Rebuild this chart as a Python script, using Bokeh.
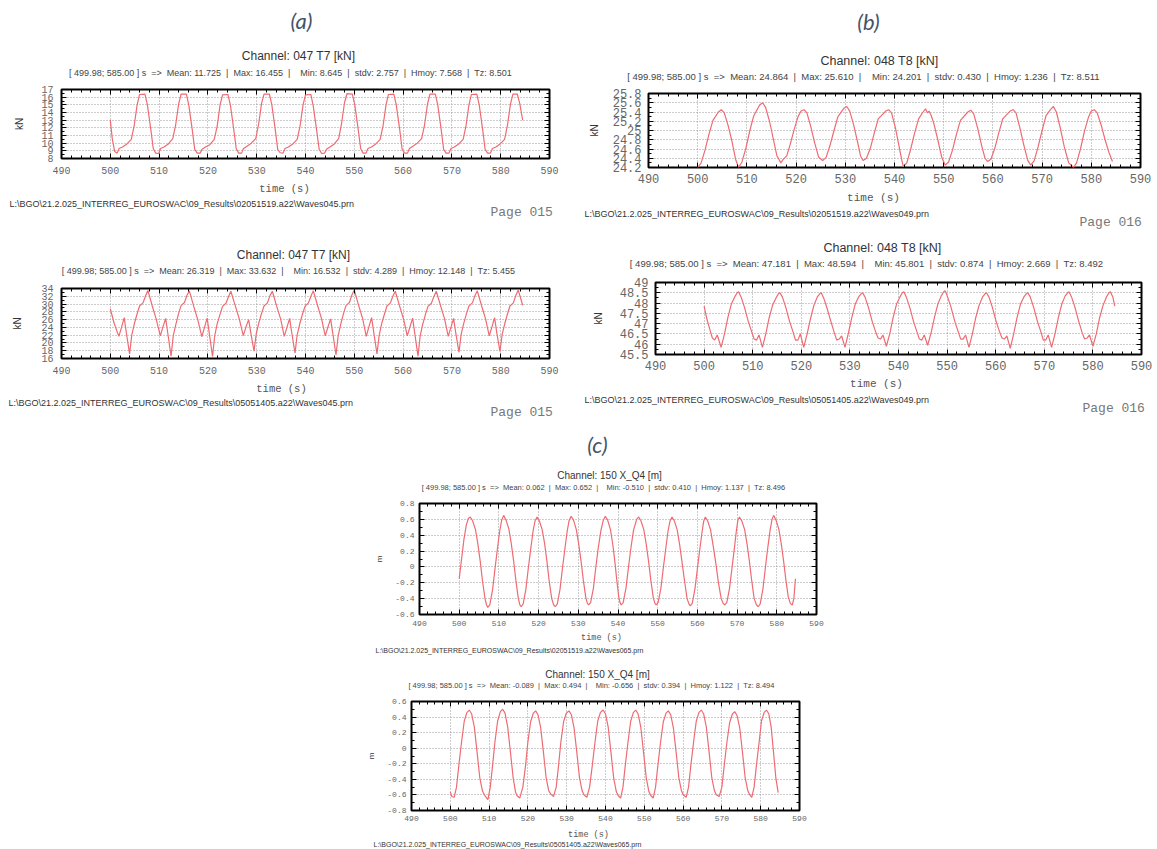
import math
from bokeh.plotting import figure
from bokeh.models import Range1d, FixedTicker, LinearAxis, CustomJSTickFormatter, Spacer
from bokeh.core.properties import value
from bokeh.layouts import column, row
from bokeh.embed import file_html
from bokeh.resources import INLINE

# ---------------- data ----------------
X_TICKS = [490, 500, 510, 520, 530, 540, 550, 560, 570, 580, 590]
A1_YTICKS = [8, 9, 10, 11, 12, 13, 14, 15, 16, 17]
A2_YTICKS = [16, 18, 20, 22, 24, 26, 28, 30, 32, 34]
B1_YTICKS = [24.2, 24.4, 24.6, 24.8, 25.0, 25.2, 25.4, 25.6, 25.8]
B2_YTICKS = [45.5, 46.0, 46.5, 47.0, 47.5, 48.0, 48.5, 49.0]
C1_YTICKS = [-0.6, -0.4, -0.2, 0.0, 0.2, 0.4, 0.6, 0.8]
C2_YTICKS = [-0.8, -0.6, -0.4, -0.2, 0.0, 0.2, 0.4, 0.6]

# 047 T7 [kN] - 02051519
A1_PTS = [(500.0, 13.0), (500.4, 10.6), (500.9, 8.9), (501.4, 8.7), (501.8, 9.3), (502.5, 9.5), (503.4, 9.9), (504.3, 10.5), (504.9, 12.3), (505.5, 15.0), (506.0, 16.35), (507.1, 16.4), (507.6, 15.0), (508.3, 11.8), (508.8, 9.3), (509.3, 8.7),
          (509.9, 8.65), (510.3, 9.3), (511.0, 9.5), (511.9, 9.9), (512.8, 10.6), (513.4, 12.4), (514.0, 15.1), (514.5, 16.4), (515.6, 16.4), (516.1, 14.9), (516.8, 11.7), (517.3, 9.2), (517.8, 8.7),
          (518.4, 8.7), (518.8, 9.2), (519.5, 9.5), (520.4, 9.8), (521.3, 10.5), (521.9, 12.2), (522.5, 15.0), (523.0, 16.3), (524.1, 16.35), (524.6, 15.0), (525.3, 11.8), (525.8, 9.3), (526.3, 8.7),
          (526.9, 8.7), (527.3, 9.3), (528.0, 9.6), (528.9, 10.0), (529.8, 10.6), (530.4, 12.5), (531.0, 15.2), (531.5, 16.4), (532.6, 16.4), (533.1, 15.0), (533.8, 11.8), (534.3, 9.2), (534.8, 8.75),
          (535.4, 8.7), (535.8, 9.3), (536.5, 9.5), (537.4, 9.9), (538.3, 10.5), (538.9, 12.3), (539.5, 15.0), (540.0, 16.3), (541.1, 16.35), (541.6, 14.8), (542.3, 11.6), (542.8, 9.2), (543.3, 8.65),
          (543.9, 8.7), (544.3, 9.2), (545.0, 9.5), (545.9, 9.9), (546.8, 10.6), (547.4, 12.6), (548.0, 15.3), (548.5, 16.45), (549.6, 16.4), (550.1, 15.0), (550.8, 11.8), (551.3, 9.3), (551.8, 8.7),
          (552.4, 8.7), (552.8, 9.3), (553.5, 9.5), (554.4, 9.9), (555.3, 10.5), (555.9, 12.3), (556.5, 15.0), (557.0, 16.35), (558.1, 16.4), (558.6, 15.0), (559.3, 11.8), (559.8, 9.2), (560.3, 8.7),
          (560.9, 8.7), (561.3, 9.3), (562.0, 9.6), (562.9, 10.0), (563.8, 10.6), (564.4, 12.4), (565.0, 15.1), (565.5, 16.4), (566.6, 16.4), (567.1, 15.0), (567.8, 11.8), (568.3, 9.2), (568.8, 8.7),
          (569.4, 8.7), (569.8, 9.3), (570.5, 9.5), (571.4, 9.9), (572.3, 10.5), (572.9, 12.3), (573.5, 15.0), (574.0, 16.35), (575.1, 16.4), (575.6, 15.0), (576.3, 11.8), (576.8, 9.2), (577.3, 8.7),
          (577.9, 8.7), (578.3, 9.3), (579.0, 9.5), (579.9, 9.9), (580.8, 10.5), (581.4, 12.4), (582.0, 15.1), (582.5, 16.4), (583.4, 16.4), (583.9, 15.2), (584.5, 13.0)]

# 047 T7 [kN] - 05051405
A2_PTS = [(500.0, 28.8), (500.8, 25.0),
          (501.75, 21.7), (502.3, 24.0), (502.85, 26.5), (503.3, 22.5), (503.95, 17.2), (504.4, 22.0), (504.9, 24.8), (505.5, 27.5), (506.0, 29.5), (506.7, 30.3), (507.2, 32.0), (507.7, 33.5), (508.6, 29.5), (509.4, 26.2),
          (510.25, 21.8), (510.8, 24.2), (511.35, 26.3), (511.8, 22.3), (512.45, 16.6), (512.9, 21.8), (513.4, 24.6), (514.0, 27.6), (514.5, 29.6), (515.2, 30.4), (515.7, 32.2), (516.2, 33.4), (517.1, 29.4), (517.9, 26.1),
          (518.75, 21.6), (519.3, 24.0), (519.85, 26.4), (520.3, 22.4), (520.95, 16.5), (521.4, 21.9), (521.9, 24.9), (522.5, 27.4), (523.0, 29.4), (523.7, 30.2), (524.2, 31.8), (524.7, 33.3), (525.6, 29.6), (526.4, 26.3),
          (527.25, 21.9), (527.8, 24.1), (528.35, 26.0), (528.8, 22.6), (529.45, 17.9), (529.9, 22.3), (530.4, 25.0), (531.0, 27.6), (531.5, 29.5), (532.2, 30.3), (532.7, 32.1), (533.2, 33.3), (534.1, 29.4), (534.9, 26.2),
          (535.65, 21.7), (536.2, 24.0), (536.75, 26.3), (537.2, 22.5), (537.85, 17.4), (538.3, 22.1), (538.8, 24.8), (539.4, 27.5), (539.9, 29.4), (540.6, 30.3), (541.1, 32.0), (541.6, 33.4), (542.5, 29.5), (543.3, 26.2),
          (544.05, 21.8), (544.6, 24.1), (545.15, 26.2), (545.6, 22.4), (546.25, 16.9), (546.7, 21.9), (547.2, 24.7), (547.8, 27.6), (548.3, 29.6), (549.0, 30.4), (549.5, 32.3), (550.0, 33.6), (550.9, 29.6), (551.7, 26.3),
          (552.45, 21.7), (553.0, 24.2), (553.55, 26.5), (554.0, 22.6), (554.65, 17.2), (555.1, 22.0), (555.6, 24.9), (556.2, 27.5), (556.7, 29.5), (557.4, 30.3), (557.9, 32.0), (558.4, 33.3), (559.3, 29.4), (560.1, 26.1),
          (560.85, 21.8), (561.4, 24.1), (561.95, 26.4), (562.4, 22.4), (563.05, 16.6), (563.5, 21.8), (564.0, 24.7), (564.6, 27.4), (565.1, 29.4), (565.8, 30.2), (566.3, 31.9), (566.8, 33.3), (567.7, 29.5), (568.5, 26.2),
          (569.25, 21.7), (569.8, 24.0), (570.35, 26.3), (570.8, 22.5), (571.45, 17.6), (571.9, 22.2), (572.4, 24.9), (573.0, 27.6), (573.5, 29.5), (574.2, 30.3), (574.7, 32.1), (575.2, 33.4), (576.1, 29.5), (576.9, 26.2),
          (577.65, 21.8), (578.2, 24.1), (578.75, 26.5), (579.2, 22.6), (579.85, 17.8), (580.3, 22.2), (580.8, 24.8), (581.4, 27.5), (581.9, 29.5), (582.6, 30.3), (583.1, 32.2), (583.6, 33.6), (584.5, 29.7)]

# 048 T8 [kN] - 02051519
B1_PTS = [(500.0, 24.20), (500.7, 24.30), (501.5, 24.58), (502.3, 24.92), (503.1, 25.22), (504.2, 25.40), (504.8, 25.45), (505.4, 25.38), (506.2, 25.10), (507.0, 24.75), (507.7, 24.38),
          (508.3, 24.20), (509.0, 24.32), (509.8, 24.62), (510.6, 25.00), (511.4, 25.32), (512.6, 25.55), (513.2, 25.60), (513.8, 25.50), (514.6, 25.20), (515.4, 24.80), (516.1, 24.45), (516.5, 24.38),
          (516.9, 24.30), (517.4, 24.38), (518.1, 24.45), (518.8, 24.70), (519.6, 25.02), (520.4, 25.30), (521.0, 25.42), (521.6, 25.45), (522.2, 25.38), (523.0, 25.08), (523.8, 24.72), (524.6, 24.42),
          (525.4, 24.35), (526.1, 24.42), (526.9, 24.68), (527.7, 25.00), (528.5, 25.30), (529.7, 25.48), (530.3, 25.52), (530.9, 25.42), (531.7, 25.12), (532.5, 24.75), (533.1, 24.45),
          (533.6, 24.35), (534.3, 24.40), (535.1, 24.62), (535.9, 24.95), (536.7, 25.25), (538.2, 25.42), (538.8, 25.45), (539.4, 25.38), (540.2, 25.05), (541.0, 24.62), (541.5, 24.35),
          (541.8, 24.22), (542.5, 24.30), (543.3, 24.60), (544.1, 24.95), (544.9, 25.25), (545.8, 25.40), (546.3, 25.47), (546.7, 25.38), (547.0, 25.42), (547.4, 25.34), (548.0, 25.15), (548.8, 24.80), (549.6, 24.42),
          (550.3, 24.25), (551.0, 24.32), (551.8, 24.58), (552.6, 24.92), (553.4, 25.22), (554.9, 25.40), (555.5, 25.44), (556.1, 25.36), (556.9, 25.05), (557.7, 24.68), (558.4, 24.40),
          (558.9, 24.33), (559.6, 24.38), (560.4, 24.62), (561.2, 24.95), (562.0, 25.25), (563.5, 25.42), (564.1, 25.45), (564.7, 25.38), (565.5, 25.05), (566.3, 24.68), (567.1, 24.35),
          (567.7, 24.25), (568.4, 24.35), (569.2, 24.65), (570.0, 25.00), (570.8, 25.32), (571.7, 25.45), (572.3, 25.52), (572.9, 25.40), (573.7, 25.05), (574.5, 24.65), (575.4, 24.30),
          (576.4, 24.20), (577.0, 24.30), (577.8, 24.60), (578.6, 24.98), (579.4, 25.28), (580.0, 25.42), (580.6, 25.45), (581.2, 25.38), (582.0, 25.12), (582.8, 24.80), (583.6, 24.52), (584.3, 24.33)]

# 048 T8 [kN] - 05051405
B2_PTS = [(500.0, 47.85), (500.6, 47.2), (501.2, 46.7), (501.7, 46.3), (502.2, 46.2), (502.7, 46.45),
          (503.5, 45.85), (504.2, 46.5), (504.9, 47.3), (505.6, 47.95), (506.3, 48.3), (506.8, 48.5), (507.1, 48.55), (507.6, 48.3), (508.3, 47.8), (509.1, 47.1), (509.8, 46.6), (510.3, 46.25), (510.8, 46.2), (511.3, 46.45),
          (512.0, 45.85), (512.7, 46.5), (513.4, 47.3), (514.1, 47.9), (514.8, 48.25), (515.3, 48.45), (515.6, 48.5), (516.1, 48.3), (516.8, 47.8), (517.6, 47.1), (518.3, 46.6), (518.8, 46.2), (519.3, 46.2), (519.8, 46.5),
          (520.5, 45.85), (521.2, 46.5), (521.9, 47.25), (522.6, 47.9), (523.3, 48.3), (523.8, 48.45), (524.1, 48.5), (524.6, 48.25), (525.3, 47.75), (526.1, 47.1), (526.8, 46.55), (527.3, 46.2), (527.8, 46.25), (528.3, 46.4),
          (529.0, 45.85), (529.7, 46.55), (530.4, 47.3), (531.1, 47.95), (531.8, 48.3), (532.3, 48.45), (532.6, 48.5), (533.1, 48.3), (533.8, 47.8), (534.6, 47.1), (535.3, 46.6), (535.8, 46.3), (536.3, 46.25), (536.8, 46.45),
          (537.5, 45.9), (538.2, 46.5), (538.9, 47.3), (539.6, 47.95), (540.3, 48.3), (540.8, 48.5), (541.1, 48.55), (541.6, 48.3), (542.3, 47.8), (543.1, 47.1), (543.8, 46.6), (544.3, 46.25), (544.8, 46.2), (545.3, 46.45),
          (546.0, 45.95), (546.7, 46.55), (547.4, 47.3), (548.1, 47.95), (548.8, 48.35), (549.3, 48.55), (549.6, 48.6), (550.1, 48.3), (550.8, 47.8), (551.6, 47.1), (552.3, 46.6), (552.8, 46.25), (553.3, 46.25), (553.8, 46.45),
          (554.5, 45.85), (555.2, 46.5), (555.9, 47.3), (556.6, 47.9), (557.3, 48.3), (557.8, 48.45), (558.1, 48.5), (558.6, 48.3), (559.3, 47.8), (560.1, 47.1), (560.8, 46.6), (561.3, 46.3), (561.8, 46.25), (562.3, 46.4),
          (563.0, 45.8), (563.7, 46.5), (564.4, 47.3), (565.1, 47.95), (565.8, 48.3), (566.3, 48.45), (566.6, 48.5), (567.1, 48.3), (567.8, 47.8), (568.6, 47.1), (569.3, 46.6), (569.8, 46.2), (570.3, 46.2), (570.8, 46.45),
          (571.5, 45.85), (572.2, 46.5), (572.9, 47.3), (573.6, 47.95), (574.3, 48.35), (574.8, 48.5), (575.1, 48.55), (575.6, 48.3), (576.3, 47.8), (577.1, 47.1), (577.8, 46.55), (578.3, 46.25), (578.8, 46.3), (579.3, 46.45),
          (580.0, 45.9), (580.7, 46.5), (581.4, 47.3), (582.1, 47.9), (582.8, 48.3), (583.3, 48.5), (583.6, 48.55), (584.1, 48.3), (584.5, 47.85)]

# 150 X_Q4 [m] - 02051519
C1_PTS = [(500.0, -0.15), (500.6, 0.10), (501.2, 0.35), (501.8, 0.53), (502.3, 0.61),
          (502.8, 0.63), (503.4, 0.58), (504.1, 0.47), (504.7, 0.29), (505.3, 0.07), (505.9, -0.19), (506.5, -0.40), (506.9, -0.48), (507.2, -0.51), (507.7, -0.48), (508.4, -0.29), (509.0, -0.03), (509.6, 0.22), (510.2, 0.45), (510.7, 0.59),
          (511.2, 0.65), (511.8, 0.59), (512.5, 0.48), (513.1, 0.30), (513.7, 0.08), (514.3, -0.18), (514.9, -0.40), (515.3, -0.48), (515.6, -0.50), (516.1, -0.47), (516.8, -0.28), (517.4, -0.02), (518.0, 0.22), (518.6, 0.45), (519.1, 0.58),
          (519.6, 0.63), (520.2, 0.58), (520.9, 0.47), (521.5, 0.30), (522.1, 0.07), (522.7, -0.19), (523.3, -0.40), (523.8, -0.48), (524.2, -0.50), (524.7, -0.47), (525.4, -0.28), (526.0, -0.02), (526.6, 0.22), (527.2, 0.45), (527.7, 0.59),
          (528.2, 0.64), (528.8, 0.59), (529.5, 0.47), (530.1, 0.29), (530.7, 0.07), (531.3, -0.18), (531.9, -0.39), (532.3, -0.46), (532.6, -0.48), (533.1, -0.45), (533.8, -0.27), (534.4, -0.01), (535.0, 0.23), (535.7, 0.46), (536.3, 0.59),
          (536.8, 0.64), (537.4, 0.59), (538.1, 0.47), (538.7, 0.28), (539.2, 0.07), (539.7, -0.17), (540.2, -0.38), (540.5, -0.45), (540.8, -0.48), (541.3, -0.45), (542.0, -0.27), (542.6, -0.02), (543.2, 0.22), (543.9, 0.46), (544.7, 0.60),
          (545.2, 0.63), (545.8, 0.58), (546.5, 0.47), (547.1, 0.29), (547.7, 0.07), (548.3, -0.18), (548.9, -0.39), (549.3, -0.46), (549.6, -0.48), (550.1, -0.45), (550.8, -0.27), (551.4, -0.02), (552.0, 0.22), (552.6, 0.45), (553.1, 0.58),
          (553.6, 0.63), (554.2, 0.58), (554.9, 0.47), (555.5, 0.29), (556.1, 0.07), (556.8, -0.19), (557.4, -0.40), (557.9, -0.47), (558.2, -0.49), (558.7, -0.46), (559.4, -0.27), (560.0, -0.02), (560.6, 0.22), (561.2, 0.45), (561.6, 0.58),
          (562.0, 0.63), (562.6, 0.58), (563.3, 0.47), (563.9, 0.29), (564.6, 0.06), (565.3, -0.20), (566.0, -0.40), (566.5, -0.46), (566.9, -0.48), (567.4, -0.45), (568.1, -0.27), (568.7, -0.02), (569.3, 0.23), (569.8, 0.45), (570.2, 0.59),
          (570.6, 0.63), (571.2, 0.58), (571.9, 0.47), (572.5, 0.29), (573.1, 0.07), (573.7, -0.18), (574.3, -0.40), (574.9, -0.48), (575.3, -0.50), (575.8, -0.47), (576.5, -0.28), (577.1, -0.02), (577.7, 0.23), (578.3, 0.46), (578.8, 0.60),
          (579.2, 0.65), (579.8, 0.59), (580.5, 0.48), (581.1, 0.30), (581.7, 0.08), (582.3, -0.17), (582.9, -0.38), (583.4, -0.46), (583.9, -0.48), (584.3, -0.40), (584.7, -0.15)]

# 150 X_Q4 [m] - 05051405
C2_PTS = [(500.0, -0.56), (500.4, -0.62),
          (501.0, -0.63), (501.6, -0.50), (502.2, -0.22), (502.9, 0.08), (503.6, 0.35), (504.3, 0.46), (504.9, 0.49), (505.5, 0.44), (506.2, 0.27), (506.9, -0.05), (507.6, -0.38), (508.3, -0.55), (508.9, -0.61),
          (509.7, -0.66), (510.3, -0.50), (510.9, -0.22), (511.5, 0.08), (512.2, 0.35), (512.9, 0.47), (513.5, 0.50), (514.1, 0.45), (514.8, 0.27), (515.5, -0.05), (516.2, -0.38), (516.8, -0.56), (517.2, -0.61),
          (517.9, -0.64), (518.7, -0.50), (519.4, -0.22), (520.0, 0.08), (520.7, 0.34), (521.4, 0.45), (522.0, 0.48), (522.6, 0.43), (523.3, 0.26), (524.0, -0.05), (524.7, -0.38), (525.4, -0.55), (525.9, -0.59),
          (526.6, -0.62), (527.3, -0.50), (527.9, -0.22), (528.5, 0.08), (529.2, 0.34), (529.9, 0.45), (530.6, 0.48), (531.2, 0.43), (531.9, 0.26), (532.6, -0.05), (533.3, -0.38), (534.0, -0.55), (534.5, -0.60),
          (535.2, -0.63), (535.9, -0.50), (536.6, -0.22), (537.3, 0.08), (538.0, 0.35), (538.7, 0.46), (539.4, 0.49), (540.0, 0.44), (540.7, 0.27), (541.4, -0.05), (542.1, -0.38), (542.8, -0.56), (543.3, -0.61),
          (543.9, -0.64), (544.5, -0.50), (545.1, -0.22), (545.8, 0.08), (546.5, 0.35), (547.2, 0.46), (547.8, 0.49), (548.4, 0.44), (549.1, 0.27), (549.8, -0.05), (550.5, -0.38), (551.2, -0.56), (551.7, -0.61),
          (552.3, -0.64), (552.9, -0.50), (553.5, -0.22), (554.2, 0.08), (554.9, 0.34), (555.6, 0.45), (556.2, 0.48), (556.8, 0.43), (557.5, 0.26), (558.2, -0.05), (558.9, -0.38), (559.6, -0.55), (560.1, -0.60),
          (560.8, -0.63), (561.4, -0.50), (562.0, -0.22), (562.7, 0.08), (563.4, 0.35), (564.1, 0.46), (564.7, 0.49), (565.3, 0.44), (566.0, 0.27), (566.7, -0.05), (567.4, -0.38), (568.1, -0.55), (568.6, -0.60),
          (569.3, -0.62), (570.0, -0.50), (570.6, -0.22), (571.3, 0.08), (572.0, 0.33), (572.7, 0.44), (573.3, 0.47), (573.9, 0.42), (574.6, 0.26), (575.3, -0.05), (576.0, -0.38), (576.7, -0.55), (577.2, -0.60),
          (577.7, -0.63), (578.3, -0.50), (578.9, -0.22), (579.6, 0.08), (580.2, 0.35), (580.9, 0.46), (581.5, 0.49), (582.1, 0.44), (582.7, 0.27), (583.3, -0.05), (583.9, -0.38), (584.5, -0.57)]

PATH_PREFIX = "L:\\BGO\\21.2.025_INTERREG_EUROSWAC\\09_Results\\"
NB = "\u00a0"


def stats_line(mean, mx, mn, sd, hm, tz):
    sep = NB + " |" + NB + " "
    return ("[ 499.98; 585.00 ] s " + NB + "=> " + NB + "Mean: " + mean + sep + "Max: " + mx + sep + NB + " Min: " + mn
            + sep + "stdv: " + sd + sep + "Hmoy: " + hm + sep + "Tz: " + tz)


SANS = "Liberation Sans"
MONO = "Liberation Mono"
LINE_COLOR = "#ef6b72"
HEAD = "#44546a"
FMT = "return parseFloat(tick.toFixed(3)).toString();"


def minor_of(ticks, n):
    out = []
    for a, b in zip(ticks[:-1], ticks[1:]):
        for k in range(1, n):
            out.append(a + (b - a) * k / n)
    return out


def style_axis(ax, ticker, fs, standoff, show):
    ax.ticker = ticker
    ax.formatter = CustomJSTickFormatter(code=FMT)
    ax.axis_line_color = None
    ax.major_tick_in = 5
    ax.major_tick_out = 0
    ax.minor_tick_in = 3
    ax.minor_tick_out = 0
    ax.major_tick_line_color = "black"
    ax.minor_tick_line_color = "black"
    ax.major_label_text_font = MONO
    if show:
        ax.major_label_text_color = "#666666"
        ax.major_label_text_font_size = fs
        ax.major_label_standoff = standoff
    else:
        ax.major_label_text_color = None
        ax.major_label_text_font_size = "0px"
        ax.major_label_standoff = 0


def strip(x0, y0, W, h, texts):
    s = figure(width=W, height=h, title=None, x_range=Range1d(x0, x0 + W), y_range=Range1d(y0 + h, y0),
               output_backend="svg", toolbar_location=None, x_axis_type=None, y_axis_type=None,
               min_border=0, frame_align=False)
    s.outline_line_color = None
    s.background_fill_color = "white"
    s.border_fill_color = "white"
    for (txt, px, py, fs, font, color, align, style) in texts:
        s.text(x=[px], y=[py], text=[txt], text_font=value(font), text_font_size=value(fs),
               text_color=color, text_align=align, text_baseline="middle", text_font_style=style)
    return s


def plot_panel(spec):
    ox, oy, W, H = spec["canvas"]
    fl, ft, fr, fb = spec["frame"]
    yt = spec["yticks"]
    p = figure(width=W, height=H, title=None,
               x_range=Range1d(490, 590), y_range=Range1d(yt[0], yt[-1]),
               output_backend="svg", toolbar_location=None, frame_align=False,
               min_border_left=fl - ox, min_border_right=ox + W - fr,
               min_border_top=ft - oy, min_border_bottom=oy + H - fb)
    p.background_fill_color = "white"
    p.border_fill_color = "white"
    p.outline_line_color = "black"
    p.outline_line_width = 2

    xt = FixedTicker(ticks=X_TICKS, minor_ticks=minor_of(X_TICKS, 5))
    ytk = FixedTicker(ticks=yt, minor_ticks=minor_of(yt, 2))
    style_axis(p.below[0], xt, spec["tick_fs"], spec["xstand"], True)
    yax = p.left[0]
    style_axis(yax, ytk, spec["tick_fs"], spec["ystand"], True)
    yax.axis_label = spec["ylabel"]
    yax.axis_label_text_font = SANS
    yax.axis_label_text_font_style = "normal"
    yax.axis_label_text_font_size = spec["ylabel_fs"]
    yax.axis_label_text_color = "#333333"
    yax.axis_label_standoff = spec["ylabel_stand"]

    top = LinearAxis()
    style_axis(top, xt, "0px", 0, False)
    p.add_layout(top, "above")
    right = LinearAxis()
    style_axis(right, ytk, "0px", 0, False)
    p.add_layout(right, "right")

    p.xgrid.ticker = xt
    p.ygrid.ticker = ytk
    p.grid.grid_line_color = "#9a9a9a"
    p.grid.grid_line_dash = "1 2"
    p.grid.grid_line_width = 1

    ts = [a for a, b in spec["pts"]]
    vs = [b for a, b in spec["pts"]]
    p.line(x=ts, y=vs, line_color=LINE_COLOR, line_width=1.2)
    return p


def panel(spec):
    ox, oy, W, H = spec["canvas"]
    t_y0, t_h = spec["top"]
    b_y0, b_h = spec["bottom"]
    return column(strip(ox, t_y0, W, t_h, spec["top_texts"]),
                  plot_panel(spec),
                  strip(ox, b_y0, W, b_h, spec["bottom_texts"]), spacing=0)


A1 = dict(canvas=(0, 82, 580, 98), frame=(61, 89, 549, 158), top=(0, 82), bottom=(180, 52),
          yticks=A1_YTICKS, pts=A1_PTS, tick_fs="10px", xstand=8, ystand=8,
          ylabel="kN", ylabel_fs="10px", ylabel_stand=13,
          top_texts=[("(a)", 301, 20, "22px", "Lato", HEAD, "center", "italic"),
                     ("Channel: 047 T7 [kN]", 298, 55, "12px", SANS, "#333333", "center", "normal"),
                     (stats_line("11.725", "16.455", "8.645", "2.757", "7.568", "8.501"), 290, 72, "9px", SANS, "#444444", "center", "normal")],
          bottom_texts=[("time (s)", 284, 188, "10.5px", MONO, "#555555", "center", "normal"),
                        (PATH_PREFIX + "02051519.a22\\Waves045.prn", 9, 203, "9px", SANS, "#333333", "left", "normal"),
                        ("Page 015", 490, 212, "13px", MONO, "#777777", "left", "normal")])

A2 = dict(canvas=(0, 282, 580, 98), frame=(61, 288, 549, 358), top=(232, 50), bottom=(380, 52),
          yticks=A2_YTICKS, pts=A2_PTS, tick_fs="10px", xstand=8, ystand=8,
          ylabel="kN", ylabel_fs="10px", ylabel_stand=15,
          top_texts=[("Channel: 047 T7 [kN]", 293, 254, "12px", SANS, "#333333", "center", "normal"),
                     (stats_line("26.319", "33.632", "16.532", "4.289", "12.148", "5.455"), 288, 270, "9px", SANS, "#444444", "center", "normal")],
          bottom_texts=[("time (s)", 281, 388, "10.5px", MONO, "#555555", "center", "normal"),
                        (PATH_PREFIX + "05051405.a22\\Waves045.prn", 8, 402, "9px", SANS, "#333333", "left", "normal"),
                        ("Page 015", 490, 412, "13px", MONO, "#777777", "left", "normal")])

B1 = dict(canvas=(580, 86, 577, 103), frame=(648, 93, 1140, 167), top=(0, 86), bottom=(189, 43),
          yticks=B1_YTICKS, pts=B1_PTS, tick_fs="12px", xstand=6, ystand=7,
          ylabel="kN", ylabel_fs="10px", ylabel_stand=10,
          top_texts=[("(b)", 868, 21, "22px", "Lato", HEAD, "center", "italic"),
                     ("Channel: 048 T8 [kN]", 879, 60, "12.5px", SANS, "#333333", "center", "normal"),
                     (stats_line("24.864", "25.610", "24.201", "0.430", "1.236", "8.511"), 863, 76, "9.5px", SANS, "#444444", "center", "normal")],
          bottom_texts=[("time (s)", 873, 197, "11px", MONO, "#555555", "center", "normal"),
                        (PATH_PREFIX + "02051519.a22\\Waves049.prn", 584, 213, "9px", SANS, "#333333", "left", "normal"),
                        ("Page 016", 1079, 222, "13px", MONO, "#777777", "left", "normal")])

B2 = dict(canvas=(580, 275, 577, 101), frame=(655, 282, 1141, 354), top=(232, 43), bottom=(376, 56),
          yticks=B2_YTICKS, pts=B2_PTS, tick_fs="12px", xstand=6, ystand=7,
          ylabel="kN", ylabel_fs="10px", ylabel_stand=13,
          top_texts=[("Channel: 048 T8 [kN]", 882, 247, "12.5px", SANS, "#333333", "center", "normal"),
                     (stats_line("47.181", "48.594", "45.801", "0.874", "2.669", "8.492"), 866, 263, "9.5px", SANS, "#444444", "center", "normal")],
          bottom_texts=[("time (s)", 876, 383, "11px", MONO, "#555555", "center", "normal"),
                        (PATH_PREFIX + "05051405.a22\\Waves049.prn", 584, 399, "9px", SANS, "#333333", "left", "normal"),
                        ("Page 016", 1082, 408, "13px", MONO, "#777777", "left", "normal")])

C1 = dict(canvas=(360, 497, 470, 135), frame=(419, 503, 816, 614), top=(432, 65), bottom=(632, 28),
          yticks=C1_YTICKS, pts=C1_PTS, tick_fs="8px", xstand=6, ystand=5,
          ylabel="m", ylabel_fs="8px", ylabel_stand=8,
          top_texts=[("(c)", 597, 444, "22px", "Lato", HEAD, "center", "italic"),
                     ("Channel: 150 X_Q4 [m]", 609, 475, "10px", SANS, "#333333", "center", "normal"),
                     (stats_line("0.062", "0.652", "-0.510", "0.410", "1.137", "8.496"), 603, 487, "7.5px", SANS, "#444444", "center", "normal")],
          bottom_texts=[("time (s)", 601, 637, "8.5px", MONO, "#555555", "center", "normal"),
                        (PATH_PREFIX + "02051519.a22\\Waves065.prn", 375, 650, "7px", SANS, "#333333", "left", "normal")])

C2 = dict(canvas=(360, 693, 470, 135), frame=(411, 701, 799, 810), top=(660, 33), bottom=(828, 21),
          yticks=C2_YTICKS, pts=C2_PTS, tick_fs="8px", xstand=5, ystand=5,
          ylabel="m", ylabel_fs="8px", ylabel_stand=8,
          top_texts=[("Channel: 150 X_Q4 [m]", 597, 674, "10px", SANS, "#333333", "center", "normal"),
                     (stats_line("-0.089", "0.494", "-0.656", "0.394", "1.122", "8.494"), 591, 685, "7.5px", SANS, "#444444", "center", "normal")],
          bottom_texts=[("time (s)", 588, 834, "8.5px", MONO, "#555555", "center", "normal"),
                        (PATH_PREFIX + "05051405.a22\\Waves065.prn", 373, 844, "7px", SANS, "#333333", "left", "normal")])

left_col = column(panel(A1), panel(A2), spacing=0)
right_col = column(panel(B1), panel(B2), spacing=0)
top_row = row(left_col, right_col, spacing=0)
bottom_row = row(Spacer(width=360, height=417), column(panel(C1), panel(C2), spacing=0), spacing=0)
layout = column(top_row, bottom_row, spacing=0)

open("out.html", "w").write(file_html(layout, INLINE))
